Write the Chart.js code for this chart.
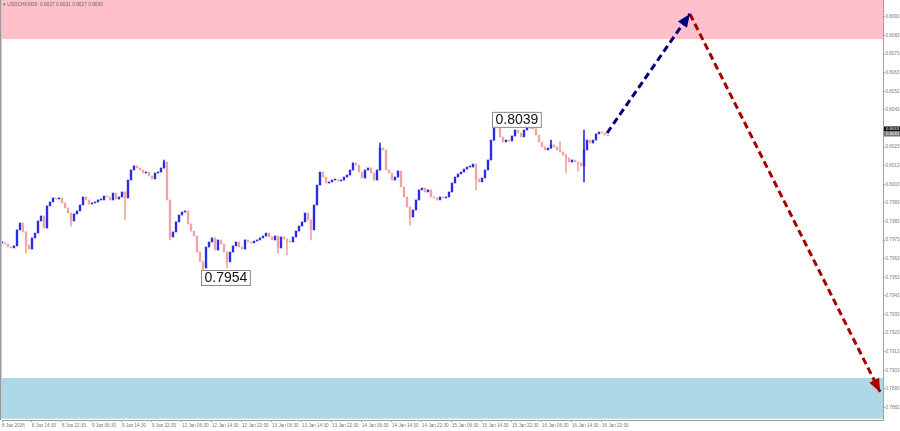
<!DOCTYPE html>
<html>
<head>
<meta charset="utf-8">
<script src="https://cdn.jsdelivr.net/npm/chart.js@4.4.1/dist/chart.umd.min.js"></script>
<style>
  html, body { margin: 0; padding: 0; background: #fff; }
  #wrap { position: relative; width: 900px; height: 431px; }
</style>
</head>
<body>
<div id="wrap"><canvas id="chart" width="900" height="431"></canvas></div>
<script>
// USDCHF M30 - closes, one candle every ~48 min
const closes = [
  0.79715, 0.79709, 0.79693, 0.79688, 0.79699, 0.79785, 0.79822, 0.79774, 0.79704, 0.79682,
  0.79742, 0.79768, 0.79833, 0.79860, 0.79795, 0.79914, 0.79935, 0.79957, 0.79951, 0.79957,
  0.79930, 0.79903, 0.79876, 0.79833, 0.79871, 0.79887, 0.79919, 0.79962, 0.79946, 0.79924,
  0.79930, 0.79935, 0.79946, 0.79946, 0.79967, 0.79962, 0.79946, 0.79983, 0.79951, 0.79962,
  0.79989, 0.79957, 0.80053, 0.80107, 0.80129, 0.80118, 0.80107, 0.80091, 0.80096, 0.80075,
  0.80059, 0.80091, 0.80096, 0.80118, 0.80150, 0.79946, 0.79747, 0.79774, 0.79828, 0.79865,
  0.79881, 0.79887, 0.79817, 0.79779, 0.79752, 0.79666, 0.79613, 0.79580, 0.79693, 0.79720,
  0.79742, 0.79677, 0.79731, 0.79709, 0.79666, 0.79613, 0.79666, 0.79699, 0.79720, 0.79693,
  0.79682, 0.79731, 0.79720, 0.79715, 0.79725, 0.79731, 0.79742, 0.79752, 0.79768, 0.79747,
  0.79731, 0.79752, 0.79688, 0.79747, 0.79736, 0.79725, 0.79720, 0.79747, 0.79779, 0.79806,
  0.79828, 0.79876, 0.79838, 0.79785, 0.79919, 0.80026, 0.80096, 0.80069, 0.80037, 0.80043,
  0.80053, 0.80053, 0.80048, 0.80053, 0.80069, 0.80080, 0.80107, 0.80145, 0.80134, 0.80096,
  0.80064, 0.80107, 0.80118, 0.80091, 0.80053, 0.80107, 0.80225, 0.80215, 0.80107, 0.80091,
  0.80053, 0.80069, 0.80102, 0.80016, 0.79962, 0.79908, 0.79854, 0.79892, 0.79946, 0.80000,
  0.80010, 0.79989, 0.80000, 0.79962, 0.79957, 0.79946, 0.79962, 0.79957, 0.79962, 0.79989,
  0.80037, 0.80069, 0.80086, 0.80096, 0.80112, 0.80123, 0.80123, 0.80139, 0.80059, 0.80043,
  0.80064, 0.80107, 0.80161, 0.80268, 0.80365, 0.80333, 0.80285, 0.80258, 0.80268, 0.80263,
  0.80290, 0.80322, 0.80306, 0.80285, 0.80322, 0.80333, 0.80349, 0.80328, 0.80295, 0.80258,
  0.80231, 0.80215, 0.80225, 0.80242, 0.80231, 0.80215, 0.80204, 0.80188, 0.80172, 0.80150,
  0.80161, 0.80150, 0.80145, 0.80129, 0.80215, 0.80268, 0.80252, 0.80268, 0.80301, 0.80311,
  0.80306, 0.80295, 0.80290
];

// candles with visible shadows
const wickIdx  = [8, 23, 41, 54, 56, 67, 75, 92, 95, 103, 126, 136, 158, 164, 183, 186, 188, 192, 194];
const wickLow  = [0.79661, 0.79806, 0.79838, 0.80118, 0.79731, 0.7954, 0.7958, 0.79661, 0.7965, 0.79731,
  0.80107, 0.79811, 0.80000, 0.80268, 0.80225, 0.80204, 0.80091, 0.80102, 0.80043];
const wickHigh = [0.79774, 0.79876, 0.79989, 0.80161, 0.79946, 0.79613, 0.79666, 0.79752, 0.79736, 0.79838,
  0.80252, 0.79908, 0.80139, 0.8039, 0.80268, 0.80258, 0.80188, 0.80150, 0.80322];

const xTickIdx = [0, 10, 20, 30, 40, 50, 60, 70, 80, 90, 100, 110, 120, 130, 140, 150, 160, 170, 180, 190, 200];
const xTickLabels = [
  '8 Jan 2026', '8 Jan 14:30', '8 Jan 22:30', '9 Jan 06:30', '9 Jan 14:30', '9 Jan 22:30',
  '12 Jan 06:30', '12 Jan 14:30', '12 Jan 22:30', '13 Jan 06:30', '13 Jan 14:30', '13 Jan 22:30',
  '14 Jan 06:30', '14 Jan 14:30', '14 Jan 22:30', '15 Jan 06:30', '15 Jan 14:30', '15 Jan 22:30',
  '16 Jan 06:30', '16 Jan 14:30', '16 Jan 22:30'
];

const yTicks = [0.8093, 0.8083, 0.8073, 0.8063, 0.8053, 0.8043, 0.8033, 0.8023, 0.8013, 0.8003, 0.7993,
  0.7983, 0.7973, 0.7963, 0.7953, 0.7943, 0.7933, 0.7923, 0.7913, 0.7903, 0.7893, 0.7883];
const yTickLabels = ['0.8093', '0.8083', '0.8073', '0.8063', '0.8052', '0.8043', '0.8033', '0.8023', '0.8013',
  '0.8003', '0.7993', '0.7983', '0.7973', '0.7963', '0.7953', '0.7943', '0.7933', '0.7923', '0.7913',
  '0.7903', '0.7893', '0.7882'];

// zones and forecast path
const sellZone = [0.80811, 0.8103];
const buyZone = [0.7877, 0.78989];
const forecastX = [201.7, 229.3, 292.7];
const forecastY = [0.80306, 0.80946, 0.78914];

const priceMarks = [
  { idx: 164, value: 0.8039, text: '0.8039' },
  { idx: 67, value: 0.7954, text: '0.7954' }
];

const UP = '#2b2be6';
const DOWN = '#f4a3a3';
const TICK_FONT = { size: 4.6, family: '"Liberation Sans", Arial, sans-serif' };

const opens = closes.map((c, i) => i ? closes[i - 1] : c);
const bodies = closes.map((c, i) => ({ x: i, y: [opens[i], c] }));
const wicks = wickIdx.map((idx, k) => ({ x: idx, y: [wickLow[k], wickHigh[k]] }));
const candleColor = (ctx) => {
  const i = ctx.raw ? ctx.raw.x : 0;
  return closes[i] >= opens[i] ? UP : DOWN;
};

const zonesPlugin = {
  id: 'zones',
  beforeDatasetsDraw(chart) {
    const { ctx, chartArea: a, scales: { y } } = chart;
    ctx.save();
    ctx.fillStyle = 'pink';
    let t = Math.max(a.top, y.getPixelForValue(sellZone[1]));
    let b = y.getPixelForValue(sellZone[0]);
    ctx.fillRect(a.left, t, a.right - a.left, b - t);
    ctx.fillStyle = 'lightblue';
    t = y.getPixelForValue(buyZone[1]);
    b = Math.min(a.bottom, y.getPixelForValue(buyZone[0]));
    ctx.fillRect(a.left, t, a.right - a.left, b - t);
    ctx.restore();
  }
};

const overlayPlugin = {
  id: 'overlay',
  afterDatasetsDraw(chart) {
    const { ctx, scales: { x, y } } = chart;
    ctx.save();
    // arrow heads
    const heads = [[0, 1, '#00007a'], [1, 2, '#a80000']];
    heads.forEach(([p, q, col]) => {
      const x1 = x.getPixelForValue(forecastX[p]), y1 = y.getPixelForValue(forecastY[p]);
      const x2 = x.getPixelForValue(forecastX[q]), y2 = y.getPixelForValue(forecastY[q]);
      const ang = Math.atan2(y2 - y1, x2 - x1);
      const len = 13, w = 5.5;
      const bx = x2 - len * Math.cos(ang), by = y2 - len * Math.sin(ang);
      ctx.fillStyle = col;
      ctx.beginPath();
      ctx.moveTo(x2, y2);
      ctx.lineTo(bx - w * Math.sin(ang), by + w * Math.cos(ang));
      ctx.lineTo(bx + w * Math.sin(ang), by - w * Math.cos(ang));
      ctx.closePath();
      ctx.fill();
    });

    // price labels
    ctx.font = '14px "Liberation Sans", Arial, sans-serif';
    ctx.textBaseline = 'middle';
    priceMarks.forEach(m => {
      const px = x.getPixelForValue(m.idx), py = y.getPixelForValue(m.value) + 2.5;
      const w = ctx.measureText(m.text).width + 6;
      const left = px - 2;
      ctx.fillStyle = '#fff';
      ctx.fillRect(left, py - 8, w, 16);
      ctx.strokeStyle = '#8a8a8a';
      ctx.lineWidth = 1;
      ctx.strokeRect(left + 0.5, py - 7.5, w, 15);
      ctx.fillStyle = '#111';
      ctx.fillText(m.text, left + 3.5, py + 0.5);
    });

    // header
    ctx.font = '4.8px "Liberation Sans", Arial, sans-serif';
    ctx.fillStyle = '#666';
    ctx.textBaseline = 'middle';
    ctx.fillText('\u25BE USDCHF,M30  0.8027 0.8031 0.8027 0.8030', 3, 5);

    // current price boxes on the axis
    const ax = chart.chartArea.right + 1;
    ctx.fillStyle = '#111';
    ctx.fillRect(ax, 126.5, 16, 5);
    ctx.fillStyle = '#777';
    ctx.fillRect(ax, 131.5, 16, 5);
    ctx.font = '4.3px "Liberation Sans", Arial, sans-serif';
    ctx.fillStyle = '#fff';
    ctx.fillText('0.8033', ax + 2, 129);
    ctx.fillText('0.8030', ax + 2, 134);

    // left frame line
    ctx.fillStyle = '#9a9a9a';
    ctx.fillRect(0, 0, 1.5, chart.chartArea.bottom);
    ctx.restore();
  }
};

const noPad = (s) => { s.paddingTop = 0; s.paddingBottom = 0; s.paddingLeft = 0; s.paddingRight = 0; };

const ctx = document.getElementById('chart').getContext('2d');
new Chart(ctx, {
  type: 'bar',
  data: {
    datasets: [
      {
        label: 'body',
        data: bodies,
        backgroundColor: candleColor,
        borderWidth: 0,
        barThickness: 1.7,
        minBarLength: 1,
        grouped: false,
        order: 1
      },
      {
        label: 'wick',
        data: wicks,
        backgroundColor: candleColor,
        borderWidth: 0,
        barThickness: 1,
        grouped: false,
        order: 2
      },
      {
        type: 'line',
        label: 'up',
        data: [{ x: forecastX[0], y: forecastY[0] }, { x: forecastX[1], y: forecastY[1] }],
        borderColor: '#00007a',
        borderWidth: 3,
        borderDash: [7, 4],
        pointRadius: 0,
        order: 0
      },
      {
        type: 'line',
        label: 'down',
        data: [{ x: forecastX[1], y: forecastY[1] }, { x: forecastX[2], y: forecastY[2] }],
        borderColor: '#a80000',
        borderWidth: 3,
        borderDash: [7, 4],
        pointRadius: 0,
        order: 0
      }
    ]
  },
  options: {
    responsive: false,
    animation: false,
    layout: { padding: { left: 2, top: 0, right: 0, bottom: 0 } },
    plugins: { legend: { display: false }, tooltip: { enabled: false } },
    scales: {
      x: {
        type: 'linear',
        min: 0,
        max: 293.67,
        offset: false,
        afterBuildTicks: (s) => { s.ticks = xTickIdx.map(v => ({ value: v })); },
        afterFit: (s) => { s.height = 11; noPad(s); },
        ticks: {
          autoSkip: false,
          maxRotation: 0,
          align: 'start',
          padding: 1,
          font: TICK_FONT,
          color: '#777',
          callback: (v, i) => xTickLabels[i]
        },
        grid: { drawOnChartArea: false, offset: false, tickLength: 2, color: '#a0a0a0' },
        border: { color: '#a0a0a0' }
      },
      y: {
        type: 'linear',
        position: 'right',
        min: 0.78763,
        max: 0.81021,
        afterBuildTicks: (s) => { s.ticks = yTicks.map(v => ({ value: v })); },
        afterFit: (s) => { s.width = 17; noPad(s); },
        ticks: {
          padding: 0.5,
          font: TICK_FONT,
          color: '#777',
          callback: (v, i) => yTickLabels[i]
        },
        grid: { drawOnChartArea: false, tickLength: 2, color: '#a0a0a0' },
        border: { color: '#a0a0a0' }
      }
    }
  },
  plugins: [zonesPlugin, overlayPlugin]
});
</script>
</body>
</html>
